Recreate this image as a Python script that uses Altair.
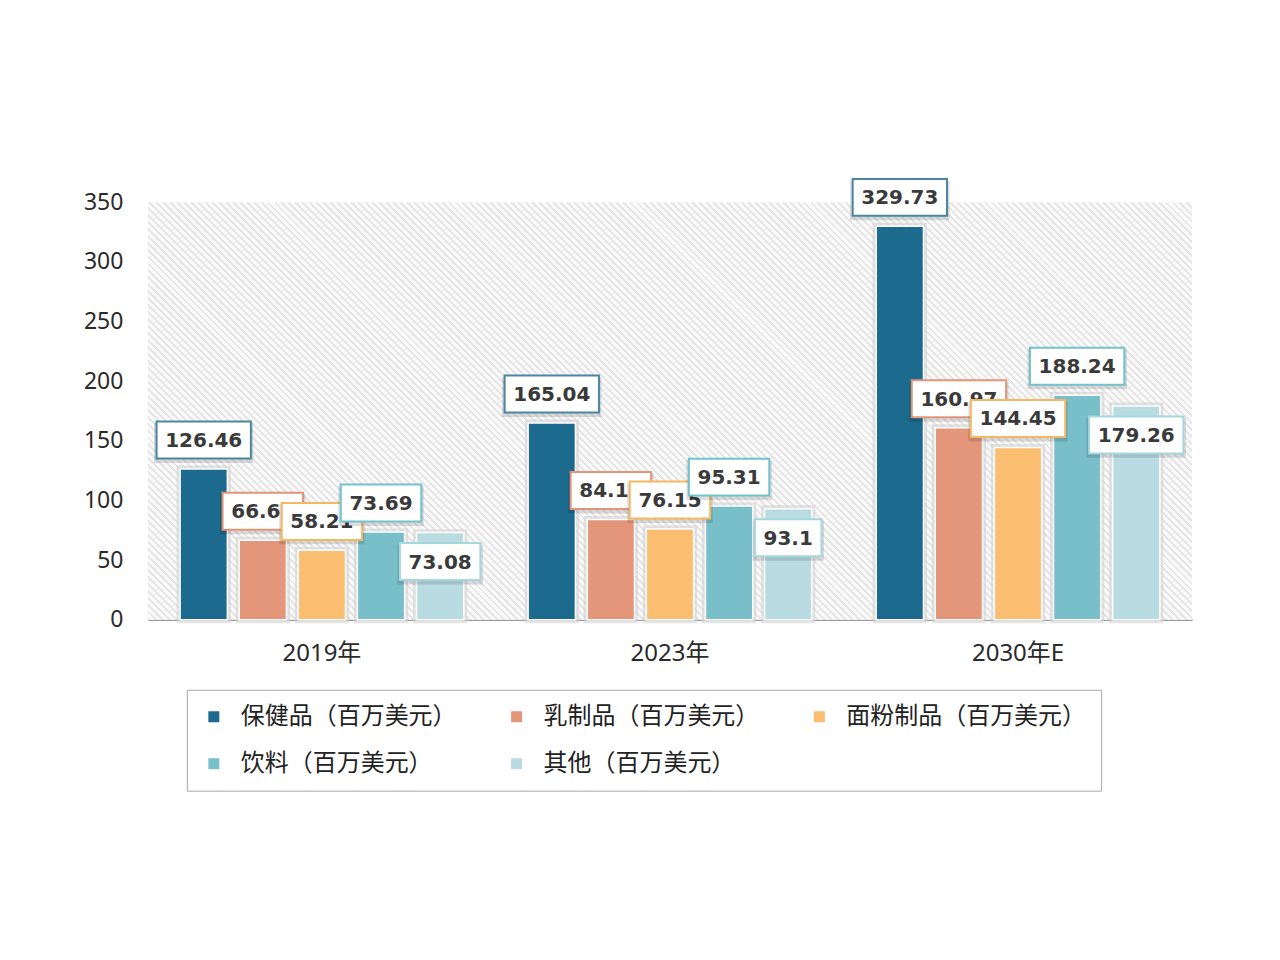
import altair as alt
import pandas as pd

years = ["2019年", "2023年", "2030年E"]
series = ["保健品（百万美元）", "乳制品（百万美元）", "面粉制品（百万美元）", "饮料（百万美元）", "其他（百万美元）"]
health = [126.46, 165.04, 329.73]
dairy = [66.62, 84.12, 160.97]
flour = [58.21, 76.15, 144.45]
drinks = [73.69, 95.31, 188.24]
others = [73.08, 93.1, 179.26]
y_ticks = [0, 50, 100, 150, 200, 250, 300, 350]

bar_colors = ["#1c6a8e", "#e4967a", "#fbbd70", "#79bfca", "#b9dce2"]
box_colors = ["#4a86a2", "#e39478", "#f6b763", "#72c3cf", "#a6d6de"]

rows = []
for s, vals in zip(series, [health, dairy, flour, drinks, others]):
    for yr, v in zip(years, vals):
        rows.append({"year": yr, "series": s, "value": v})
df = pd.DataFrame(rows)

W, H = 1045, 418
FONT = "Noto Sans, Noto Sans CJK SC"

# diagonal hatch as a striped linear gradient
n_stripes = 210
stops = []
for i in range(n_stripes):
    o0 = i / n_stripes
    o1 = (i + 0.42) / n_stripes
    o2 = (i + 1) / n_stripes
    stops += [
        alt.GradientStop(color="#e6e6e6", offset=o0),
        alt.GradientStop(color="#e6e6e6", offset=o1),
        alt.GradientStop(color="#fafafa", offset=o1),
        alt.GradientStop(color="#fafafa", offset=o2),
    ]
k = (W + H) / (W * W + H * H)
hatch = alt.LinearGradient(gradient="linear", stops=stops, x1=0, y1=1, x2=W * k, y2=1 - H * k)

x_enc = alt.X(
    "year:N", sort=years,
    scale=alt.Scale(paddingInner=0.185, paddingOuter=0.0925),
    axis=alt.Axis(title=None, labelAngle=0, ticks=False, labelFontSize=24, labelColor="#2a2a2a",
                  labelPadding=22, domainColor="#9a9a9a", domainWidth=1.5, labelFont=FONT),
)
xo_enc = alt.XOffset("series:N", sort=series, scale=alt.Scale(paddingInner=0.2, paddingOuter=0))
y_enc = alt.Y(
    "value:Q", scale=alt.Scale(domain=[0, 350], nice=False),
    axis=alt.Axis(title=None, values=y_ticks, ticks=False, domain=False, grid=False,
                  labelFontSize=23, labelColor="#2a2a2a", labelPadding=25, labelFont=FONT),
)

legend = alt.Legend(
    title=None, orient="none", legendX=39, legendY=488, columns=3, direction="horizontal",
    fillColor="white", strokeColor="#a8a8a8", padding=15, symbolType="square",
    symbolSize=121, symbolStrokeWidth=0, labelFontSize=24, labelFont=FONT,
    labelColor="#222222", labelLimit=400, columnPadding=48, rowPadding=23, labelOffset=15,
)
color_enc = alt.Color("series:N", sort=series, scale=alt.Scale(domain=series, range=bar_colors), legend=legend)

bg = alt.Chart(alt.Data(values=[{"a": 1}])).mark_rect(fill=hatch).encode(
    x=alt.value(0), x2=alt.value(W), y=alt.value(0), y2=alt.value(H)
)

base = alt.Chart(df)

halo = base.mark_bar(stroke="#d2d2d2", strokeWidth=7, strokeOpacity=0.6).encode(
    x=x_enc, xOffset=xo_enc, y=y_enc, color=color_enc,
)

bars = base.mark_bar(stroke="white", strokeWidth=1.5).encode(
    x=x_enc, xOffset=xo_enc, y=y_enc, color=color_enc,
)

layers = [bg, halo, bars]
for i, s in enumerate(series):
    off = 29 if i == 4 else -29
    sub = base.transform_filter(alt.datum.series == s).transform_calculate(
        label="toString(datum.value)"
    ).transform_calculate(bw="13.9*length(datum.label) + 11")
    shadow = sub.mark_rect(
        fill="#000000", opacity=0.13, height=40, yOffset=off + 3,
        width=alt.ExprRef(expr="datum.bw + 5"),
    ).encode(x=x_enc, xOffset=xo_enc, y=y_enc)
    box = sub.mark_rect(
        fill="white", stroke=box_colors[i], strokeWidth=2, height=37, yOffset=off,
        width=alt.ExprRef(expr="datum.bw"),
    ).encode(x=x_enc, xOffset=xo_enc, y=y_enc)
    txt = sub.mark_text(
        font="DejaVu Sans", fontWeight="bold", fontSize=20, color="#3a3a3a",
        baseline="middle", align="center", yOffset=off + 1,
    ).encode(x=x_enc, xOffset=xo_enc, y=y_enc, text="label:N")
    layers += [shadow, box, txt]

chart = alt.layer(*layers).properties(
    width=W, height=H,
    padding={"left": 140, "top": 194, "right": 80, "bottom": 190},
    autosize=alt.AutoSizeParams(type="none"),
    background="white",
).configure_view(stroke=None)

chart.save("out.html", embed_options={"renderer": "svg", "actions": False})
